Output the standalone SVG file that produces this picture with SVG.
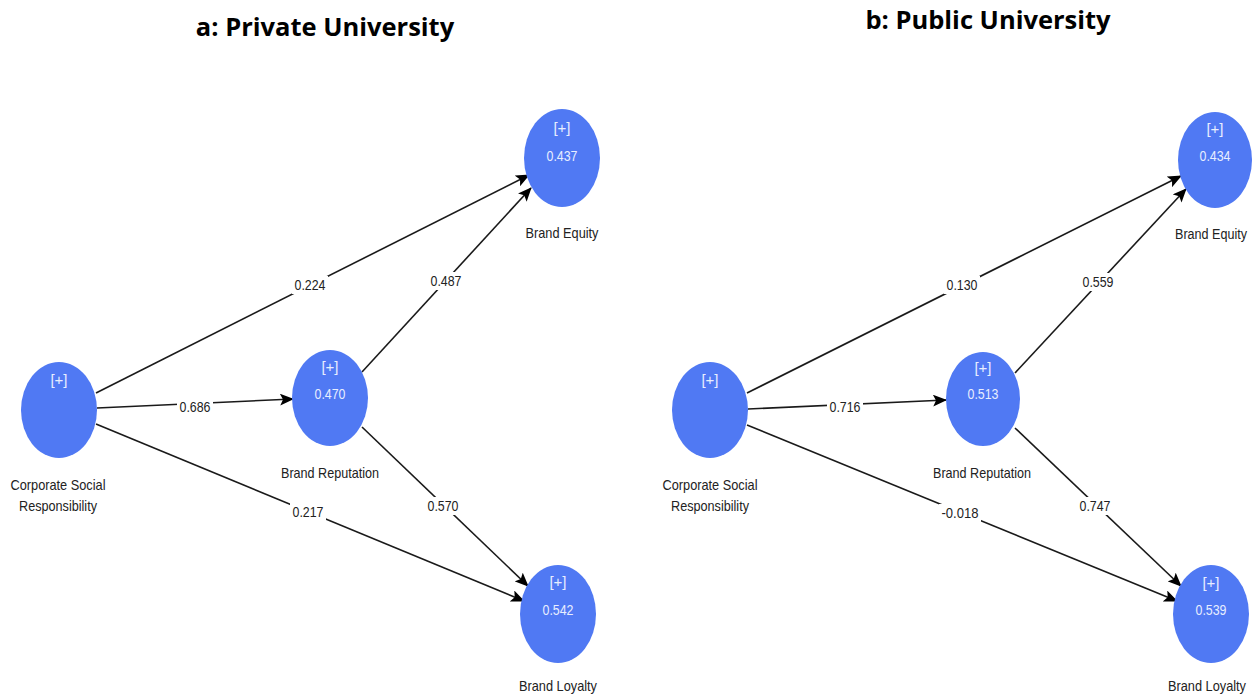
<svg xmlns="http://www.w3.org/2000/svg" width="1255" height="697" viewBox="0 0 1255 697">
<style>
.title{font-family:"Open Sans","Liberation Sans",sans-serif;font-weight:bold;font-size:25.5px;fill:#000;text-anchor:middle}
.node{fill:#5079F3}
.in{font-family:"Liberation Sans",Arial,sans-serif;font-size:15px;fill:#e8eeff;text-anchor:middle}
.lbl{font-family:"Liberation Sans",Arial,sans-serif;font-size:15px;fill:#222;text-anchor:middle}
.edge{stroke:#1a1a1a;stroke-width:1.6;fill:none;marker-end:url(#arr)}
.bg{fill:#fff}
</style>
<defs>
<marker id="arr" markerUnits="userSpaceOnUse" markerWidth="14" markerHeight="12" refX="13" refY="6" orient="auto">
<path d="M0,0 L14,6 L0,12 L3,6 z" fill="#000"/>
</marker>
</defs>
<rect width="1255" height="697" fill="#fff"/>
<text class="title" x="325" y="36">a: Private University</text>
<text class="title" x="988" y="29">b: Public University</text>

<g id="connectors">
<line class="edge" x1="96" y1="393" x2="529" y2="175"/>
<line class="edge" x1="362" y1="372" x2="531" y2="188"/>
<line class="edge" x1="97" y1="408" x2="293" y2="399"/>
<line class="edge" x1="96" y1="424" x2="524" y2="601"/>
<line class="edge" x1="362" y1="427" x2="528" y2="586"/>
<line class="edge" x1="747" y1="393" x2="1181" y2="176"/>
<line class="edge" x1="1015" y1="373" x2="1186" y2="189"/>
<line class="edge" x1="748" y1="409" x2="946" y2="400"/>
<line class="edge" x1="747" y1="425" x2="1177" y2="601"/>
<line class="edge" x1="1015" y1="428" x2="1181" y2="586"/>
<rect class="bg" x="292" y="276" width="36" height="18"/>
<text class="lbl" x="310" y="290" textLength="31" lengthAdjust="spacingAndGlyphs">0.224</text>
<rect class="bg" x="428" y="272" width="36" height="18"/>
<text class="lbl" x="446" y="286" textLength="31" lengthAdjust="spacingAndGlyphs">0.487</text>
<rect class="bg" x="177" y="398" width="36" height="18"/>
<text class="lbl" x="195" y="412" textLength="31" lengthAdjust="spacingAndGlyphs">0.686</text>
<rect class="bg" x="290" y="503" width="36" height="18"/>
<text class="lbl" x="308" y="517" textLength="31" lengthAdjust="spacingAndGlyphs">0.217</text>
<rect class="bg" x="425" y="497" width="36" height="18"/>
<text class="lbl" x="443" y="511" textLength="31" lengthAdjust="spacingAndGlyphs">0.570</text>
<rect class="bg" x="944" y="276" width="36" height="18"/>
<text class="lbl" x="962" y="290" textLength="31" lengthAdjust="spacingAndGlyphs">0.130</text>
<rect class="bg" x="1080" y="273" width="36" height="18"/>
<text class="lbl" x="1098" y="287" textLength="31" lengthAdjust="spacingAndGlyphs">0.559</text>
<rect class="bg" x="827" y="398" width="36" height="18"/>
<text class="lbl" x="845" y="412" textLength="31" lengthAdjust="spacingAndGlyphs">0.716</text>
<rect class="bg" x="939" y="504" width="42" height="18"/>
<text class="lbl" x="960" y="518" textLength="37" lengthAdjust="spacingAndGlyphs">-0.018</text>
<rect class="bg" x="1077" y="497" width="36" height="18"/>
<text class="lbl" x="1095" y="511" textLength="31" lengthAdjust="spacingAndGlyphs">0.747</text>
</g>

<g id="a-csr">
<ellipse class="node" cx="59" cy="410" rx="38" ry="48"/>
<text class="in" x="59" y="385">[+]</text>
<text class="lbl" x="58" y="490" textLength="95" lengthAdjust="spacingAndGlyphs">Corporate Social</text>
<text class="lbl" x="58" y="511" textLength="78" lengthAdjust="spacingAndGlyphs">Responsibility</text>
</g>
<g id="a-br">
<ellipse class="node" cx="330" cy="398" rx="38" ry="48"/>
<text class="in" x="330" y="372">[+]</text>
<text class="in" x="330" y="399" textLength="31" lengthAdjust="spacingAndGlyphs">0.470</text>
<text class="lbl" x="330" y="478" textLength="98" lengthAdjust="spacingAndGlyphs">Brand Reputation</text>
</g>
<g id="a-be">
<ellipse class="node" cx="562" cy="158" rx="38" ry="49"/>
<text class="in" x="562" y="133">[+]</text>
<text class="in" x="562" y="161" textLength="31" lengthAdjust="spacingAndGlyphs">0.437</text>
<text class="lbl" x="562" y="238" textLength="73" lengthAdjust="spacingAndGlyphs">Brand Equity</text>
</g>
<g id="a-bl">
<ellipse class="node" cx="558" cy="614" rx="38" ry="49"/>
<text class="in" x="558" y="587">[+]</text>
<text class="in" x="558" y="615" textLength="31" lengthAdjust="spacingAndGlyphs">0.542</text>
<text class="lbl" x="558" y="691" textLength="78" lengthAdjust="spacingAndGlyphs">Brand Loyalty</text>
</g>

<g id="b-csr">
<ellipse class="node" cx="710" cy="410" rx="38" ry="48"/>
<text class="in" x="710" y="385">[+]</text>
<text class="lbl" x="710" y="490" textLength="95" lengthAdjust="spacingAndGlyphs">Corporate Social</text>
<text class="lbl" x="710" y="511" textLength="78" lengthAdjust="spacingAndGlyphs">Responsibility</text>
</g>
<g id="b-br">
<ellipse class="node" cx="983" cy="399" rx="37" ry="47"/>
<text class="in" x="983" y="373">[+]</text>
<text class="in" x="983" y="399" textLength="31" lengthAdjust="spacingAndGlyphs">0.513</text>
<text class="lbl" x="982" y="478" textLength="98" lengthAdjust="spacingAndGlyphs">Brand Reputation</text>
</g>
<g id="b-be">
<ellipse class="node" cx="1215" cy="160" rx="37" ry="48"/>
<text class="in" x="1215" y="134">[+]</text>
<text class="in" x="1215" y="161" textLength="31" lengthAdjust="spacingAndGlyphs">0.434</text>
<text class="lbl" x="1211" y="239" style="font-size:14px" textLength="72" lengthAdjust="spacingAndGlyphs">Brand Equity</text>
</g>
<g id="b-bl">
<ellipse class="node" cx="1211" cy="614" rx="38" ry="49"/>
<text class="in" x="1211" y="588">[+]</text>
<text class="in" x="1211" y="615" textLength="31" lengthAdjust="spacingAndGlyphs">0.539</text>
<text class="lbl" x="1207" y="691" style="font-size:14px" textLength="78" lengthAdjust="spacingAndGlyphs">Brand Loyalty</text>
</g>
</svg>
